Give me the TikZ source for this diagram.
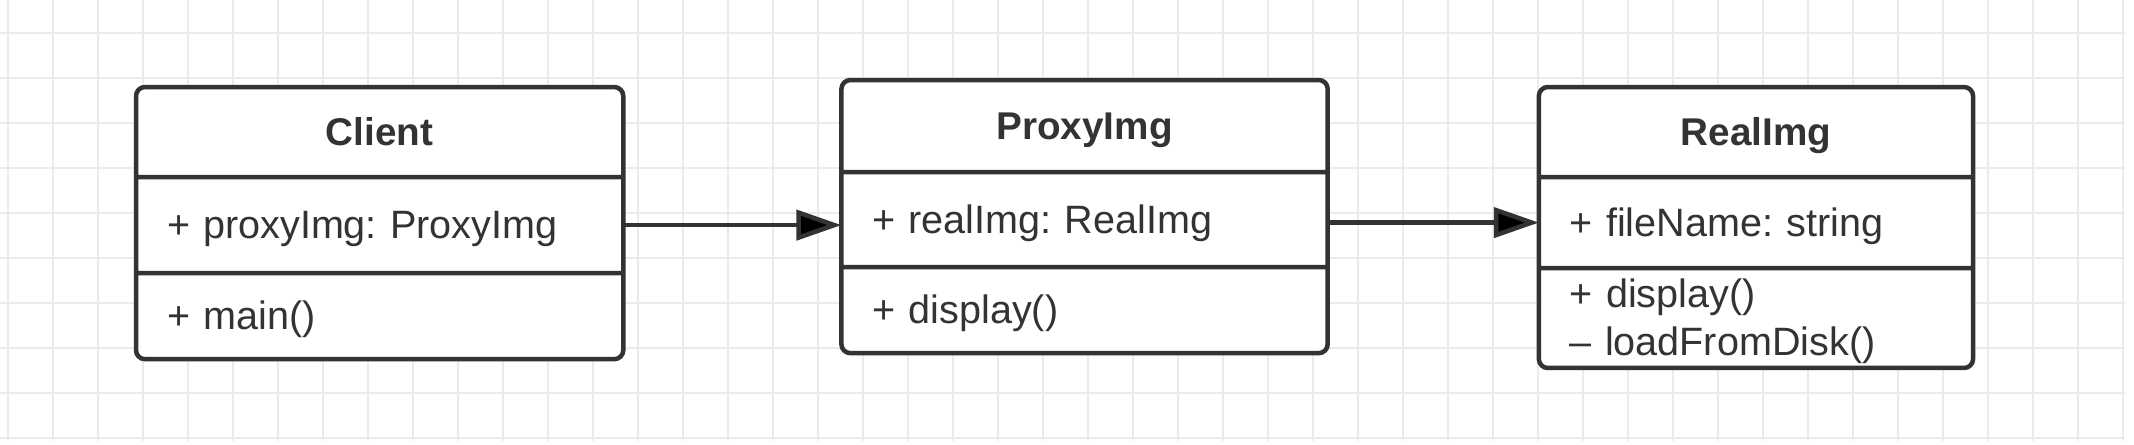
\documentclass[tikz,border=0pt]{standalone}
\usepackage{fontspec}
\setmainfont{Liberation Sans}
\usetikzlibrary{positioning}
\usetikzlibrary{shapes.multipart}
\usetikzlibrary{arrows.meta}
\usetikzlibrary{calc}

\definecolor{inkgray}{HTML}{333333}
\definecolor{gridgray}{HTML}{EBEBEB}

% invisible strut: height above and depth below the baseline
\newcommand{\partstrut}[2]{\rule[-#2]{0pt}{\dimexpr#1+#2\relax}}
% centred class name in the first part
\newcommand{\classname}[1]{\hspace*{\fill}\textbf{\fontsize{11pt}{13.6pt}\selectfont #1}\hspace*{\fill}}

\begin{document}
\begin{tikzpicture}[x=0.01cm, y=-0.01cm,
            umlclass/.style={draw=inkgray, fill=white, line width=0.045cm, rounded corners=0.09cm,
            rectangle split, rectangle split parts=3, align=left, inner xsep=0.31cm,
            inner ysep=0pt, outer sep=0pt, text=inkgray,
            font=\fontsize{11.25pt}{13.6pt}\selectfont\frenchspacing},
            assoc/.style={draw=inkgray, line width=0.045cm, -{Triangle[length=0.45cm, width=0.3cm]}}]
        \useasboundingbox (0,0) rectangle (2134,444);
        % grid
        \foreach \gx in {0,...,47}
            \draw[gridgray, line width=0.028cm] (8+45*\gx,0) -- (8+45*\gx,441);
        \foreach \gy in {0,...,9}
            \draw[gridgray, line width=0.028cm] (0,33+45*\gy) -- (2125,33+45*\gy);

        \node[umlclass, text width=4.25cm, anchor=north west] (client) at (136,87)
            {\classname{Client}\partstrut{0.5635cm}{0.2915cm}
            \nodepart{two}+ proxyImg: ProxyImg\partstrut{0.5935cm}{0.3215cm}
            \nodepart{three}+ main()\partstrut{0.5435cm}{0.2715cm}};
        \node[umlclass, text width=4.24cm] (proxy) [right=2.18cm of client.north east,
            anchor=north west, yshift=0.07cm]
            {\classname{ProxyImg}\partstrut{0.5735cm}{0.3015cm}
            \nodepart{two}+ realImg: RealImg\partstrut{0.5885cm}{0.3165cm}
            \nodepart{three}+ display()\partstrut{0.5435cm}{0.2715cm}};
        \node[umlclass, text width=3.72cm] (real) [right=2.11cm of proxy.north east,
            anchor=north west, yshift=-0.07cm]
            {\classname{RealImg}\partstrut{0.5635cm}{0.2915cm}
            \nodepart{two}+ fileName: string\partstrut{0.5685cm}{0.2965cm}
            \nodepart{three}+ display()\partstrut{0.3735cm}{0pt}\\
            – loadFromDisk()\partstrut{0pt}{0.1015cm}};

        \coordinate (client-attr) at ($(client.text split east)!0.5!(client.two split east)$);
        \coordinate (real-attr) at ($(real.text split west)!0.5!(real.two split west)$);
        \draw[assoc] (client-attr) -- (client-attr -| proxy.west);
        \draw[assoc] (real-attr -| proxy.east) -- (real-attr);
    \end{tikzpicture}
\end{document}
